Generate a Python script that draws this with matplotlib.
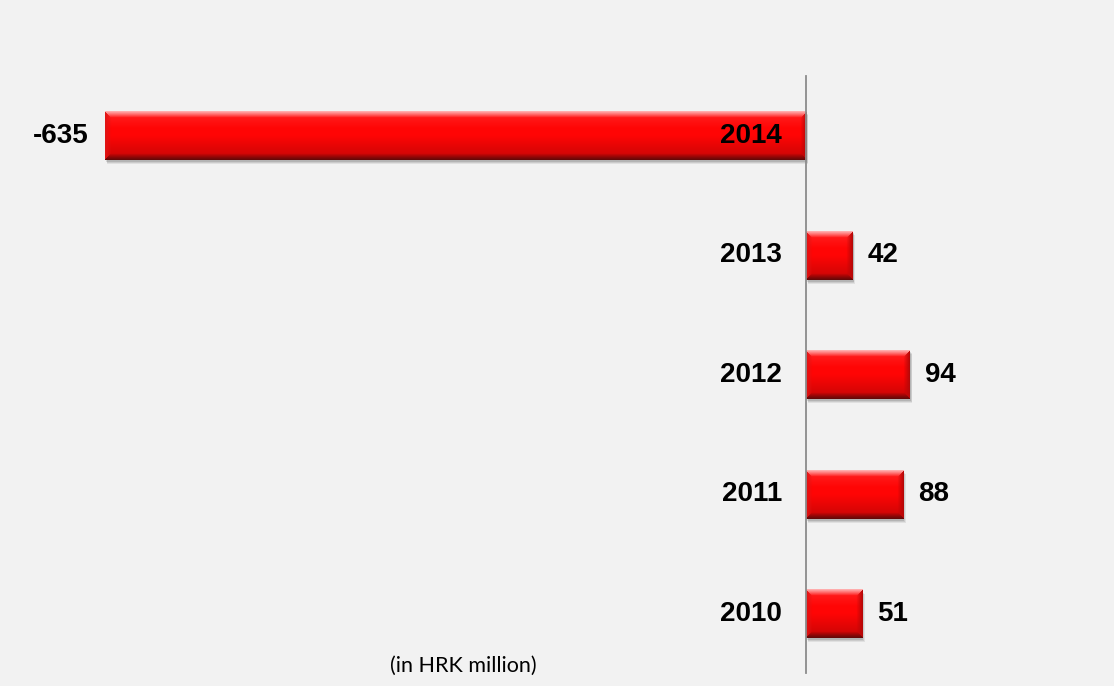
import matplotlib.pyplot as plt
import numpy as np
from matplotlib.patches import Rectangle

years = ['2010', '2011', '2012', '2013', '2014']
values = [51, 88, 94, 42, -635]
unit_note = '(in HRK million)'

W, H, DPI = 1114, 686, 100
BG = '#f2f2f2'

XMIN, XMAX = -730, 279
YMIN, YMAX = -0.6025, 5.138
BAR_H = 0.41


def bevel_image(w_px, h_px, b=6):
    """RGB image of a bevelled red bar, w_px x h_px pixels."""
    h_px, w_px = max(int(h_px), 2), max(int(w_px), 2)
    r = np.arange(h_px)[:, None] * np.ones((1, w_px))
    c = np.ones((h_px, 1)) * np.arange(w_px)[None, :]
    top, bot = r, h_px - 1 - r
    left, right = c, w_px - 1 - c
    t = r / (h_px - 1)

    # face: bright red with a faint highlight up top, darker toward the bottom
    face = np.zeros((h_px, w_px, 3))
    face[..., 0] = 1.0 - 0.22 * np.clip((t - 0.5) / 0.5, 0, 1)
    hl = 0.12 * np.clip(1 - t / 0.35, 0, 1)
    face[..., 1] = 0.02 + hl
    face[..., 2] = 0.02 + hl
    img = face.copy()

    d = np.stack([top, bot, left, right])
    which = np.argmin(d, axis=0)
    dist = np.min(d, axis=0)
    edge = dist < b
    k = (dist / b)[..., None]

    cols = {
        0: np.array([1.0, 0.68, 0.68]),   # top light
        1: np.array([0.40, 0.03, 0.03]),  # bottom dark
        2: np.array([0.88, 0.08, 0.08]),  # left
        3: np.array([0.72, 0.03, 0.03]),  # right
    }
    for i, col in cols.items():
        m = edge & (which == i)
        blend = col * (1 - k) + face * k
        img[m] = blend[m]
    return img


fig = plt.figure(figsize=(W / DPI, H / DPI), dpi=DPI, facecolor=BG)
ax = fig.add_axes([0, 0, 1, 1])
ax.set_facecolor(BG)
ax.set_xlim(XMIN, XMAX)
ax.set_ylim(YMIN, YMAX)
ax.axis('off')

pos = np.arange(len(years))
bars = ax.barh(pos, values, height=BAR_H, color='none', edgecolor='none', zorder=3)

px_x = W / (XMAX - XMIN)
px_y = H / (YMAX - YMIN)

lbl = dict(fontsize=20, fontweight='bold', family='Liberation Sans', zorder=5)

for rect, val, yr in zip(bars, values, years):
    x0, y0 = rect.get_x(), rect.get_y()
    w, h = rect.get_width(), rect.get_height()
    xa, xb = min(x0, x0 + w), max(x0, x0 + w)

    # soft drop shadow
    for off, a in [(4, 0.07), (3, 0.09), (2, 0.11)]:
        ax.add_patch(Rectangle((xa + off / px_x * 0.6, y0 - off / px_y), xb - xa, h,
                               facecolor='black', alpha=a, edgecolor='none', zorder=2))

    img = bevel_image((xb - xa) * px_x, h * px_y)
    ax.imshow(img, extent=(xa, xb, y0, y0 + h), aspect='auto',
              interpolation='bilinear', zorder=4)

    yc = y0 + h / 2
    ax.text(-24 / px_x, yc, yr, ha='right', va='center', **lbl)
    if val >= 0:
        ax.text(xb + 15 / px_x, yc, f'{val}', ha='left', va='center', **lbl)
    else:
        ax.text(xa - 16 / px_x, yc, f'{val}', ha='right', va='center', **lbl)

ax.plot([0, 0], [-0.494, 4.502], color='#8c8c8c', lw=1.3, zorder=6)

ax.text(-310, -0.435, unit_note, ha='center', va='center', fontsize=15.5,
        family='Lato', color='black')

ax.set_xlim(XMIN, XMAX)
ax.set_ylim(YMIN, YMAX)
fig.savefig('out.png', dpi=DPI, facecolor=BG)
